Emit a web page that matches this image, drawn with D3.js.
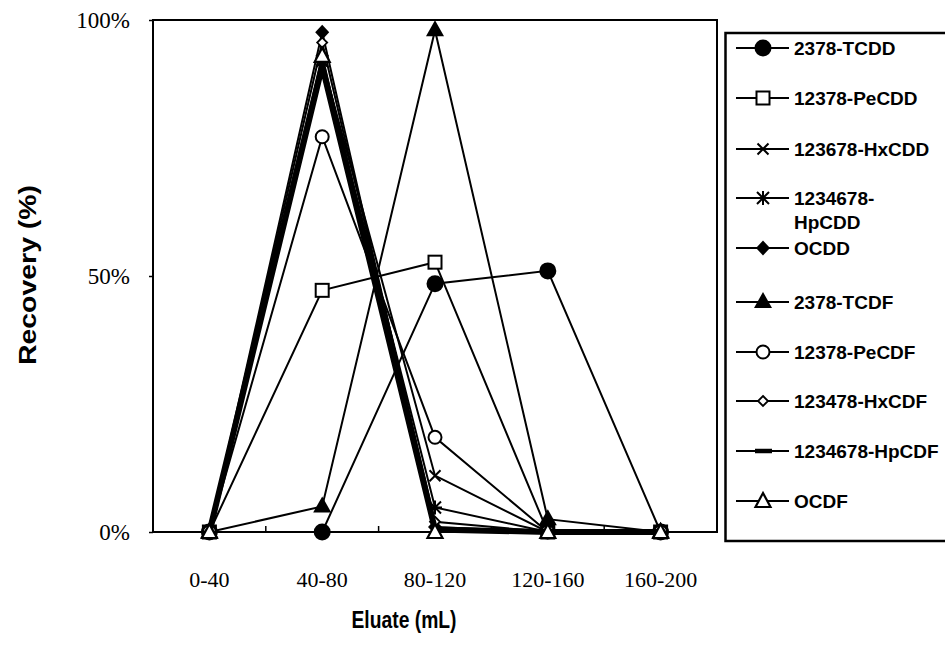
<!DOCTYPE html>
<html>
<head>
<meta charset="utf-8">
<script src="https://cdn.jsdelivr.net/npm/d3@7"></script>
<style>
  html, body { margin: 0; padding: 0; background: #fff; }
  svg { display: block; }
</style>
</head>
<body>
<svg id="chart" width="945" height="647"></svg>
<script>
// ---------------- data ----------------
const categories = ["0-40", "40-80", "80-120", "120-160", "160-200"];
const seriesNames = ["2378-TCDD", "12378-PeCDD", "123678-HxCDD", "1234678-HpCDD", "OCDD",
                     "2378-TCDF", "12378-PeCDF", "123478-HxCDF", "1234678-HpCDF", "OCDF"];
const tcdd    = [0, 0, 48.5, 51, 0];
const pecdd   = [0, 47.2, 52.7, 0, 0];
const hxcdd   = [0, 92, 11, 0, 0];
const hpcdd   = [0, 92, 4.8, 0, 0];
const ocdd    = [0, 97.6, 1, 0, 0];
const tcdf    = [0, 5, 98, 2.5, 0];
const pecdf   = [0, 77.2, 18.5, 0, 0];
const hxcdf   = [0, 95.6, 2, 0, 0];
const hpcdf   = [0, 91, 0.5, 0, 0];
const ocdf    = [0, 93, 0, 0, 0];
const yTicks  = [0, 50, 100];
const yTickLabels = ["0%", "50%", "100%"];
const xTitle = "Eluate (mL)";
const yTitle = "Recovery  (%)";

const seriesValues = [tcdd, pecdd, hxcdd, hpcdd, ocdd, tcdf, pecdf, hxcdf, hpcdf, ocdf];
const markerTypes = ["dot", "square", "x", "asterisk", "diamond", "triangle", "circle", "smalldiamond", "dash", "opentriangle"];

// ---------------- layout ----------------
const svg = d3.select("#chart");
const plot = {left: 153, right: 717, top: 20, bottom: 532};

const x = d3.scaleBand().domain(categories).range([plot.left, plot.right]).padding(0);
const y = d3.scaleLinear().domain([0, 100]).range([plot.bottom, plot.top]);
const cx = c => x(c) + x.bandwidth() / 2;

// frame
svg.append("rect")
  .attr("x", plot.left).attr("y", plot.top)
  .attr("width", plot.right - plot.left).attr("height", plot.bottom - plot.top)
  .attr("fill", "none").attr("stroke", "#000").attr("stroke-width", 2);

// y axis
const yAxis = d3.axisLeft(y).tickValues(yTicks)
  .tickFormat((d, i) => yTickLabels[i]).tickSizeInner(4).tickSizeOuter(0).tickPadding(19);
const gy = svg.append("g").attr("transform", `translate(${plot.left},0)`).call(yAxis);
gy.select(".domain").remove();
gy.selectAll("line").attr("stroke", "#000").attr("stroke-width", 1.5);
gy.selectAll("text").attr("font-family", "'Liberation Serif', 'Times New Roman', serif")
  .attr("font-size", 23).attr("fill", "#000");

// x axis
const xAxis = d3.axisBottom(x).tickSize(0).tickPadding(39);
const gx = svg.append("g").attr("transform", `translate(0,${plot.bottom})`).call(xAxis);
gx.select(".domain").remove();
gx.selectAll("text").attr("font-family", "'Liberation Serif', 'Times New Roman', serif")
  .attr("font-size", 22).attr("fill", "#000");

// inner boundary ticks on x axis
svg.append("g").selectAll("line").data(categories.slice(1))
  .join("line")
  .attr("x1", d => x(d)).attr("x2", d => x(d))
  .attr("y1", plot.bottom).attr("y2", plot.bottom - 6)
  .attr("stroke", "#000").attr("stroke-width", 1.5);

// axis titles
svg.append("text").text(xTitle)
  .attr("x", 404).attr("y", 628).attr("text-anchor", "middle")
  .attr("font-family", "'Liberation Sans', Arial, sans-serif").attr("font-weight", "bold")
  .attr("font-size", 23.5).attr("textLength", 105).attr("lengthAdjust", "spacingAndGlyphs");

svg.append("text").text(yTitle)
  .attr("transform", "translate(36,275) rotate(-90)")
  .attr("text-anchor", "middle")
  .attr("font-family", "'Liberation Sans', Arial, sans-serif").attr("font-weight", "bold")
  .attr("font-size", 24).attr("textLength", 180).attr("lengthAdjust", "spacingAndGlyphs");

// ---------------- marker drawing ----------------
function drawMarker(g, type, px, py) {
  const s = "#000";
  switch (type) {
    case "dot":
      g.append("circle").attr("cx", px).attr("cy", py).attr("r", 8.5).attr("fill", s);
      break;
    case "square":
      g.append("rect").attr("x", px - 6.5).attr("y", py - 6.5).attr("width", 13).attr("height", 13)
        .attr("fill", "#fff").attr("stroke", s).attr("stroke-width", 2);
      break;
    case "x":
      g.append("path").attr("d", `M${px-5.5},${py-5.5}L${px+5.5},${py+5.5}M${px-5.5},${py+5.5}L${px+5.5},${py-5.5}`)
        .attr("stroke", s).attr("stroke-width", 2).attr("fill", "none");
      break;
    case "asterisk":
      g.append("path").attr("d", `M${px-6},${py-6}L${px+6},${py+6}M${px-6},${py+6}L${px+6},${py-6}M${px},${py-7}L${px},${py+7}M${px-7},${py}L${px+7},${py}`)
        .attr("stroke", s).attr("stroke-width", 2).attr("fill", "none");
      break;
    case "diamond":
      g.append("path").attr("d", `M${px},${py-7.5}L${px+7},${py}L${px},${py+7.5}L${px-7},${py}Z`).attr("fill", s);
      break;
    case "triangle":
      g.append("path").attr("d", `M${px},${py-10}L${px+9},${py+6}L${px-9},${py+6}Z`).attr("fill", s);
      break;
    case "circle":
      g.append("circle").attr("cx", px).attr("cy", py).attr("r", 6.5)
        .attr("fill", "#fff").attr("stroke", s).attr("stroke-width", 2);
      break;
    case "smalldiamond":
      g.append("path").attr("d", `M${px},${py-5}L${px+5},${py}L${px},${py+5}L${px-5},${py}Z`)
        .attr("fill", "#fff").attr("stroke", s).attr("stroke-width", 1.8);
      break;
    case "dash":
      break;
    case "opentriangle":
      g.append("path").attr("d", `M${px},${py-8}L${px+7.5},${py+6}L${px-7.5},${py+6}Z`)
        .attr("fill", "#fff").attr("stroke", s).attr("stroke-width", 2.2);
      break;
  }
}

// ---------------- series ----------------
const line = d3.line().x((d, i) => cx(categories[i])).y(d => y(d));
const plotG = svg.append("g");
seriesValues.forEach((vals, si) => {
  const g = plotG.append("g");
  g.append("path").attr("d", line(vals)).attr("fill", "none").attr("stroke", "#000")
    .attr("stroke-width", markerTypes[si] === "dash" ? 6 : 2).attr("stroke-linejoin", "miter");
  vals.forEach((v, i) => drawMarker(g, markerTypes[si], cx(categories[i]), y(v)));
});

// ---------------- legend ----------------
const legend = svg.append("g");
legend.append("rect").attr("x", 725.5).attr("y", 33).attr("width", 240).attr("height", 508)
  .attr("fill", "#fff").attr("stroke", "#000").attr("stroke-width", 2.5);

const legendRows = [48, 98, 149, 198, 248, 302, 352, 401, 451, 501];
seriesNames.forEach((name, i) => {
  const ly = legendRows[i];
  const g = legend.append("g");
  g.append("line").attr("x1", 736).attr("x2", 789).attr("y1", ly).attr("y2", ly)
    .attr("stroke", "#000").attr("stroke-width", 2);
  if (markerTypes[i] === "dash") {
    g.append("line").attr("x1", 755).attr("x2", 772).attr("y1", ly).attr("y2", ly)
      .attr("stroke", "#000").attr("stroke-width", 4.5);
  } else {
    drawMarker(g, markerTypes[i], 763, ly);
  }
  const parts = name === "1234678-HpCDD" ? ["1234678-", "HpCDD"] : [name];
  parts.forEach((p, k) => {
    g.append("text").text(p).attr("x", 794).attr("y", ly + k * 24).attr("dy", "0.36em")
      .attr("font-family", "'Liberation Sans', Arial, sans-serif").attr("font-weight", "bold")
      .attr("font-size", 19).attr("fill", "#000");
  });
});
</script>
</body>
</html>
